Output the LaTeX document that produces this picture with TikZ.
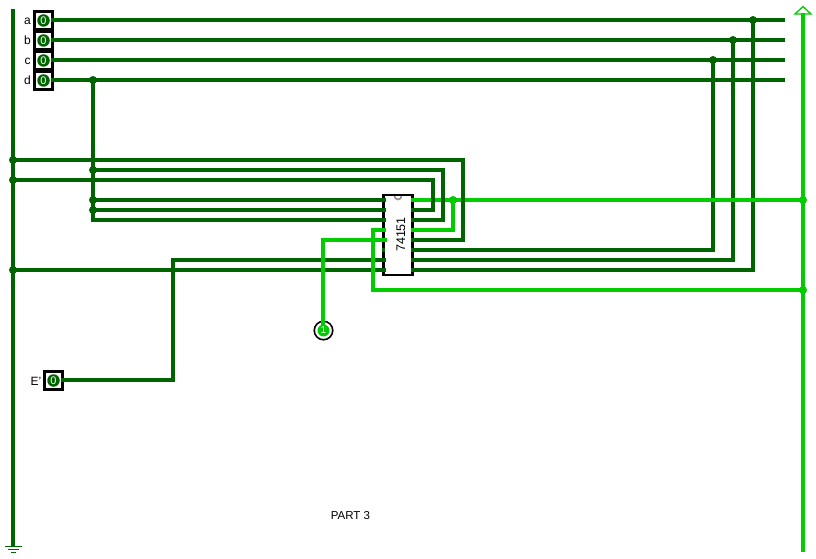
\documentclass[tikz,border=0pt]{standalone}
\usepackage{fontspec}
\setmainfont{Liberation Sans}
\definecolor{darkw}{RGB}{0,100,0}
\definecolor{brightw}{RGB}{0,204,0}
\tikzset{
  x=1pt,y=-1pt,
  wire/.style={line width=3.2pt,draw=darkw,line join=miter,line cap=rect},
  hot/.style={line width=3.2pt,draw=brightw,line join=miter,line cap=rect},
  pinstub/.style={line width=3.2pt,draw=darkw},
  hotstub/.style={line width=3.2pt,draw=brightw},
  dot/.style={circle,fill=darkw,inner sep=0pt,minimum size=8pt},
  hotdot/.style={circle,fill=brightw,inner sep=0pt,minimum size=8pt},
  swbox/.style={draw=black,line width=2.2pt,fill=white,minimum size=18pt,inner sep=0pt},
  swval/.style={circle,fill=darkw,text=white,minimum size=12.5pt,inner sep=0pt,font=\fontsize{11}{11}\selectfont},
  lbl/.style={font=\fontsize{12}{12}\selectfont,text=black,inner sep=0pt},
  chipbox/.style={draw=black,line width=2.2pt,fill=white,minimum width=29pt,minimum height=80pt,inner sep=0pt},
}
\begin{document}
\begin{tikzpicture}
\useasboundingbox (0,0) rectangle (816,559);
\fill[white] (0,0) rectangle (816,559);
% named points
\coordinate (gt) at (13,10.5); \coordinate (gb) at (13,544);
\coordinate (pt) at (803,15); \coordinate (pb) at (803,550.5);
\coordinate (ea) at (783.5,20); \coordinate (eb) at (783.5,40);
\coordinate (ec) at (783.5,60); \coordinate (ed) at (783.5,80);
\coordinate (b1) at (463,160); \coordinate (b2) at (443,170); \coordinate (b3) at (433,180);
\coordinate (d5) at (93,220);
\coordinate (k1) at (373,290);
\coordinate (k2) at (323,240);
\coordinate (k3) at (173,260);
\coordinate (ledtop) at (323,326);
% junctions
\node[dot] (ja) at (753,20) {};
\node[dot] (jb) at (733,40) {};
\node[dot] (jc) at (713,60) {};
\node[dot] (jd) at (93,80) {};
\node[dot] (j1) at (13,160) {};
\node[dot] (j2) at (13,180) {};
\node[dot] (j3) at (13,270) {};
\node[dot] (j4) at (93,170) {};
\node[dot] (j5) at (93,200) {};
\node[dot] (j6) at (93,210) {};
% switches
\node[swbox] (swa) at (43.5,20.5) {};
\node[swbox] (swb) at (43.5,40.5) {};
\node[swbox] (swc) at (43.5,60.5) {};
\node[swbox] (swd) at (43.5,80.5) {};
\node[swbox] (swe) at (53.5,380.5) {};
\coordinate (sa) at (53,20); \coordinate (sb) at (53,40); \coordinate (sc) at (53,60); \coordinate (sd) at (53,80); \coordinate (se) at (63,380);
% chip pin coordinates
\foreach \i/\y in {1/200,2/210,3/220,4/230,5/240,6/250,7/260,8/270}{
  \coordinate (L\i) at (385,\y);
  \coordinate (R\i) at (411,\y);
}
% dark wires
\draw[wire] (gt) -- (gb);
\draw[wire] (sa) -- (ea);
\draw[wire] (sb) -- (eb);
\draw[wire] (sc) -- (ec);
\draw[wire] (sd) -- (ed);
\draw[wire] (jd) -- (d5) -- (L3);
\draw[wire] (j5) -- (L1);
\draw[wire] (j6) -- (L2);
\draw[wire] (j3) -- (L8);
\draw[wire] (se) -- (k3 |- se) -- (k3) -- (L7);
\draw[wire] (R6) -- (jc |- R6) -- (jc);
\draw[wire] (R7) -- (jb |- R7) -- (jb);
\draw[wire] (R8) -- (ja |- R8) -- (ja);
% bright wires
\draw[hot] (pt) -- (pb);
\node[hotdot] (j7) at (453,200) {};
\node[hotdot] (j8) at (803,200) {};
\node[hotdot] (j9) at (803,290) {};
\draw[hot] (R1) -- (j8);
\draw[hot] (j7) -- (j7 |- R4) -- (R4);
\draw[hot] (j9) -- (k1) -- (k1 |- L4) -- (L4);
% dark wires that pass over the bright output
\draw[wire] (j1) -- (b1) -- (b1 |- R5) -- (R5);
\draw[wire] (j4) -- (b2) -- (b2 |- R3) -- (R3);
\draw[wire] (j2) -- (b3) -- (b3 |- R2) -- (R2);
% chip
\node[chipbox] (chip) at (398,235) {};
\draw[line width=1.6pt,draw=black!45] (394.5,196) arc[start angle=180,end angle=0,radius=3.5];
\node[lbl,rotate=90,font=\fontsize{12.5}{12.5}\selectfont] (chiplbl) at (401,234.5) {74151};
\draw[pinstub] (381,200) -- (386,200);
\draw[pinstub] (381,210) -- (386,210);
\draw[pinstub] (381,220) -- (386,220);
\draw[hotstub] (381,230) -- (386,230);
\draw[pinstub] (381.5,250) -- (385,250);
\draw[pinstub] (381,260) -- (386,260);
\draw[pinstub] (381,270) -- (386,270);
\draw[hotstub] (411,200) -- (415,200);
\draw[pinstub] (411,210) -- (415,210);
\draw[pinstub] (411,220) -- (415,220);
\draw[hotstub] (411,230) -- (415,230);
\draw[pinstub] (411,240) -- (415,240);
\draw[pinstub] (411,250) -- (415,250);
\draw[pinstub] (411,260) -- (415,260);
\draw[pinstub] (411,270) -- (415,270);
% switch values and labels
\foreach \n/\xx/\yy in {va/43.5/20.5,vb/43.5/40.5,vc/43.5/60.5,vd/43.5/80.5,ve/53.5/380.5}{
  \node[swval] (\n) at (\xx,\yy) {0};
}
\node[lbl,anchor=base] (la) at (27.5,25) {a};
\node[lbl,anchor=base] (lb) at (27.5,45) {b};
\node[lbl,anchor=base] (lc) at (27.5,65) {c};
\node[lbl,anchor=base] (ld) at (27.5,85) {d};
\node[lbl,anchor=base] (le) at (36,385) {E'};
% LED
\node[circle,draw=black,line width=1.6pt,fill=white,minimum size=18.5pt,inner sep=0pt] (led) at (323.5,330.5) {};
\draw[hot] (L5) -- (k2) -- (ledtop);
\draw[hotstub] (381,240) -- (386,240);
\node[circle,fill=brightw,text=white,minimum size=12pt,inner sep=0pt,font=\fontsize{10}{10}\selectfont] (ledv) at (323.5,330.5) {1};
% rails ends
\draw[draw=darkw,line width=1.3pt] (5,546.5) -- (22,546.5) (8,549.5) -- (19,549.5) (11,552.5) -- (16,552.5) (11,541) -- (13,541);
\draw[draw=brightw,line width=1.3pt,line join=miter] (795,14) -- (803,6.5) -- (811,14) -- cycle;
\draw[draw=brightw,line width=1.3pt] (801,20) -- (803,20);
\node[lbl,font=\fontsize{11.5}{11.5}\selectfont] (title) at (350.5,515.5) {PART 3};
\end{tikzpicture}
\end{document}
